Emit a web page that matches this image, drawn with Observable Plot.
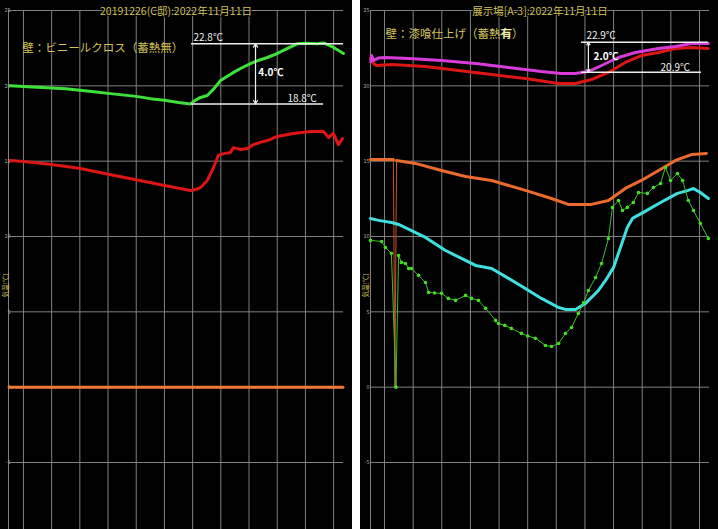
<!DOCTYPE html>
<html><head><meta charset="utf-8">
<script src="https://cdn.jsdelivr.net/npm/d3@7"></script>
<script src="https://cdn.jsdelivr.net/npm/@observablehq/plot@0.6"></script>
<style>
html,body{margin:0;padding:0;background:#fff;width:718px;height:529px;overflow:hidden}
#wrap{display:flex;width:718px;height:529px}
#left{width:352px;height:529px;background:#000}
#sep{width:8px;height:529px;background:#fff}
#right{width:358px;height:529px;background:#000}
svg{display:block}
</style></head>
<body>
<div id="wrap"><div id="left"></div><div id="sep"></div><div id="right"></div></div>
<script>
// ---- labels ----
const titleLeft = "20191226(C邸):2022年11月11日";
const titleRight = "展示場[A-3]:2022年11月11日";
const wallLeft = "壁：ビニールクロス（蓄熱無）";
const wallRight = "壁：漆喰仕上げ（蓄熱有）";
const yLabel = "気温[℃]";
const yTicks = [-5, 0, 5, 10, 15, 20, 25];
const gridHours = [1,2,3,4,5,6,7,8,9,10,11,12];

// ---- annotation values ----
const leftHi = 22.8, leftLo = 18.8;
const rightHi = 22.9, rightLo = 20.9;

// ---- left panel series (time in grid units) ----
const leftGreenT = [0.54,1,1.5,2,2.5,3,3.5,4,4.5,5,5.5,6,6.5,6.92,7.1,7.28,7.52,7.75,7.99,8.2,8.45,8.75,9.05,9.35,9.65,9.95,10.22,10.5,10.72,11.0,11.43,11.64,12.0,12.35];
const leftGreenV = [20.0,19.95,19.9,19.85,19.8,19.7,19.6,19.5,19.4,19.3,19.15,19.05,18.9,18.8,19.05,19.23,19.36,19.8,20.35,20.6,20.89,21.2,21.48,21.7,21.88,22.1,22.35,22.6,22.8,22.82,22.8,22.85,22.55,22.15];
const leftRedT = [0.54,1,2,3.02,4.09,5.04,5.96,6.92,7.1,7.28,7.52,7.74,7.91,8.1,8.34,8.45,8.7,8.94,9.16,9.4,9.65,10.0,10.57,11.18,11.64,11.82,11.99,12.17,12.31];
const leftRedV = [15.05,14.98,14.78,14.51,14.1,13.75,13.4,13.05,13.12,13.25,13.72,14.58,15.38,15.5,15.58,15.9,15.77,15.84,16.1,16.25,16.37,16.64,16.84,16.97,16.97,16.57,16.84,16.1,16.5];
const leftOrangeT = [0.5,1,2,3,4,5,6,7,8,9,10,11,12,12.33];
const leftOrangeV = [0,0,0,0,0,0,0,0,0,0,0,0,0,0];

// ---- right panel series ----
const rightMagentaT = [0.52,0.55,0.62,0.8,1.03,1.84,2.99,4.18,5.33,6.48,7.18,7.67,8.12,8.58,9.17,9.76,10.57,11.16,11.72,12.31];
const rightMagentaV = [21.6,22.01,21.68,21.85,21.88,21.81,21.68,21.48,21.22,20.95,20.82,20.82,20.95,21.35,21.88,22.21,22.48,22.61,22.81,22.81];
const rightRedT = [0.51,0.62,0.72,1.24,2.43,3.58,4.74,5.92,7.08,7.67,8.23,8.82,9.41,9.97,10.57,11.16,11.72,12.31];
const rightRedV = [21.81,21.48,21.35,21.42,21.28,21.02,20.75,20.49,20.16,20.16,20.42,20.89,21.55,22.01,22.21,22.48,22.54,22.48];
const rightOrangeT = [0.51,1.0,1.31,1.36,1.42,2.08,2.99,3.83,4.74,5.92,6.83,7.42,8.23,8.82,9.41,9.97,10.57,11.16,11.72,12.24];
const rightOrangeV = [15.11,15.11,15.11,0,15.05,14.85,14.38,13.98,13.72,13.06,12.52,12.13,12.13,12.39,13.19,13.72,14.38,15.05,15.44,15.51];
const rightCyanT = [0.51,0.79,1.24,1.31,1.49,2.43,3.13,3.83,4.18,4.74,5.33,5.92,6.48,7.08,7.32,7.67,8.02,8.47,8.72,9.0,9.24,9.48,9.66,10.04,10.64,11.23,11.61,11.79,12.03,12.31];
const rightCyanV = [11.2,11.07,10.93,10.9,10.8,9.94,9.07,8.41,8.08,7.88,7.22,6.55,5.89,5.29,5.16,5.16,5.56,6.42,7.08,7.95,9.27,10.6,11.2,11.6,12.26,12.86,13.06,13.19,12.92,12.52];
const rightGreenT = [0.51,0.9,1.03,1.24,1.40,1.49,1.59,1.73,1.84,1.94,2.19,2.43,2.54,2.75,2.99,3.23,3.48,3.83,4.04,4.28,4.53,4.88,4.98,5.2,5.43,5.78,6.0,6.27,6.62,6.83,7.08,7.32,7.53,7.77,7.95,8.12,8.37,8.58,8.82,8.96,9.17,9.31,9.48,9.69,9.87,10.18,10.39,10.64,10.81,10.99,11.23,11.41,11.61,11.79,12.03,12.31];
const rightGreenV = [9.74,9.67,9.27,8.88,0,8.74,8.28,8.21,7.88,7.88,7.42,6.95,6.29,6.25,6.23,5.89,5.76,6.09,5.89,5.76,5.23,4.43,4.23,4.1,3.9,3.57,3.4,3.24,2.77,2.7,2.9,3.57,3.96,4.89,5.6,6.42,7.28,8.21,9.87,11.93,12.39,11.73,11.93,12.26,12.92,12.86,13.25,13.52,14.58,13.72,14.18,13.72,12.39,11.73,10.87,9.87];

const khaki = "#d4c35a";
const grid = "#808080";
const font = "'Noto Sans CJK JP', 'Noto Sans', sans-serif";
const fmt = d => d.toFixed(1) + "℃";

function base(xDomain, yLabDx, tickDx, tickAnchor) {
  return [
    Plot.ruleY(yTicks, {x1: xDomain[0], x2: xDomain[1], stroke: grid, strokeWidth: 1}),
    Plot.ruleX([xDomain[0], ...gridHours], {y1: 25, y2: -9.7, stroke: grid, strokeWidth: 1}),
    Plot.text(yTicks, {x: xDomain[0], y: d => d, text: d => String(d), fontSize: 5.5, fill: "#a8a8a8", textAnchor: tickAnchor, dx: tickDx}),
    Plot.text([yLabel], {x: xDomain[0], y: 6.75, text: d => d, rotate: -90, dx: yLabDx, fontSize: 6.5, fill: khaki})
  ];
}
const noDip = v => v.map(d => d === 0 ? NaN : d);

// ---- left ----
const xL = [0.47, 12.35];
const left = Plot.plot({
  width: 352, height: 529,
  marginLeft: 8, marginRight: 9, marginTop: 10, marginBottom: 67,
  x: {domain: xL, axis: null},
  y: {domain: [-5, 25], axis: null},
  style: {background: "#000", fontFamily: font},
  marks: [
    ...base(xL, -3, 2, "end"),
    Plot.line(leftOrangeV, {x: leftOrangeT, y: leftOrangeV, stroke: "#f07a35", strokeWidth: 3}),
    Plot.line(leftRedV, {x: leftRedT, y: leftRedV, stroke: "#dd1515", strokeWidth: 3}),
    Plot.line(leftGreenV, {x: leftGreenT, y: leftGreenV, stroke: "#3ee03a", strokeWidth: 3}),
    Plot.ruleY([leftHi], {x1: 6.96, x2: 12.35, stroke: "#eeeeee", strokeWidth: 1.5}),
    Plot.ruleY([leftLo], {x1: 6.96, x2: 11.64, stroke: "#eeeeee", strokeWidth: 1.5}),
    Plot.arrow([leftHi, leftLo], {x1: 9.23, x2: 9.23, y1: (leftHi + leftLo) / 2, y2: d => d, stroke: "#eeeeee", strokeWidth: 1.2, headLength: 5}),
    Plot.text([leftHi], {x: 7.03, y: 23.18, text: fmt, textAnchor: "start", fill: "#f0f0f0", fontSize: 10}),
    Plot.text([leftLo], {x: 10.36, y: 19.13, text: fmt, textAnchor: "start", fill: "#f0f0f0", fontSize: 10}),
    Plot.text([leftHi - leftLo], {x: 9.33, y: 20.85, text: fmt, textAnchor: "start", fill: "#ffffff", fontSize: 10, fontWeight: "bold"}),
    Plot.text([wallLeft], {x: 0.96, y: 22.51, text: d => d, textAnchor: "start", fill: khaki, fontSize: 11.5}),
    Plot.text([titleLeft], {frameAnchor: "top", dy: -3, text: d => d, fill: khaki, fontSize: 10.5, stroke: "#000", strokeWidth: 2})
  ]
});
document.getElementById("left").appendChild(left);

// ---- right ----
const xR = [0.51, 12.35];
const right = Plot.plot({
  width: 358, height: 529,
  marginLeft: 10, marginRight: 9, marginTop: 10, marginBottom: 67,
  x: {domain: xR, axis: null},
  y: {domain: [-5, 25], axis: null},
  style: {background: "#000", fontFamily: font},
  marks: [
    ...base(xR, -5, -1, "end"),
    Plot.line(rightOrangeV, {x: rightOrangeT, y: rightOrangeV, stroke: "#c8502a", strokeWidth: 1}),
    Plot.line(rightOrangeV, {x: rightOrangeT, y: noDip(rightOrangeV), stroke: "#ec6a2c", strokeWidth: 3}),
    Plot.line(rightCyanV, {x: rightCyanT, y: rightCyanV, stroke: "#3fe0e0", strokeWidth: 3}),
    Plot.line(rightGreenV, {x: rightGreenT, y: rightGreenV, stroke: "#3fbf2a", strokeWidth: 1}),
    Plot.dot(rightGreenV, {x: rightGreenT, y: rightGreenV, fill: "#44dd22", r: 1.8}),
    Plot.line(rightRedV, {x: rightRedT, y: rightRedV, stroke: "#dd1515", strokeWidth: 3}),
    Plot.line(rightMagentaV, {x: rightMagentaT, y: rightMagentaV, stroke: "#d83cd8", strokeWidth: 3}),
    Plot.ruleY([rightHi], {x1: 7.88, x2: 12.31, stroke: "#eeeeee", strokeWidth: 1.5}),
    Plot.ruleY([rightLo], {x1: 7.88, x2: 12.07, stroke: "#eeeeee", strokeWidth: 1.5}),
    Plot.arrow([rightHi, rightLo], {x1: 8.12, x2: 8.12, y1: (rightHi + rightLo) / 2, y2: d => d, stroke: "#eeeeee", strokeWidth: 1.2, headLength: 4}),
    Plot.text([rightHi], {x: 8.05, y: 23.31, text: fmt, textAnchor: "start", fill: "#f0f0f0", fontSize: 10}),
    Plot.text([rightLo], {x: 10.64, y: 21.18, text: fmt, textAnchor: "start", fill: "#f0f0f0", fontSize: 10}),
    Plot.text([rightHi - rightLo], {x: 8.3, y: 21.91, text: fmt, textAnchor: "start", fill: "#ffffff", fontSize: 10, fontWeight: "bold"}),
    Plot.text([wallRight], {x: 1.03, y: 23.41, text: d => d, textAnchor: "start", fill: khaki, fontSize: 11.5}),
    Plot.text([titleRight], {frameAnchor: "top", dy: -3, text: d => d, fill: khaki, fontSize: 10.5, stroke: "#000", strokeWidth: 2})
  ]
});
document.getElementById("right").appendChild(right);

// emphasise the last kanji of the right-hand wall label
right.querySelectorAll("text").forEach(t => {
  if (t.textContent === wallRight) {
    const i = wallRight.indexOf("有");
    t.textContent = "";
    const a = document.createElementNS("http://www.w3.org/2000/svg", "tspan");
    a.textContent = wallRight.slice(0, i);
    const b = document.createElementNS("http://www.w3.org/2000/svg", "tspan");
    b.textContent = "有"; b.setAttribute("font-weight", "bold"); b.setAttribute("fill", "#f2eab0");
    const c = document.createElementNS("http://www.w3.org/2000/svg", "tspan");
    c.textContent = wallRight.slice(i + 1);
    t.append(a, b, c);
  }
});
</script>
</body></html>
